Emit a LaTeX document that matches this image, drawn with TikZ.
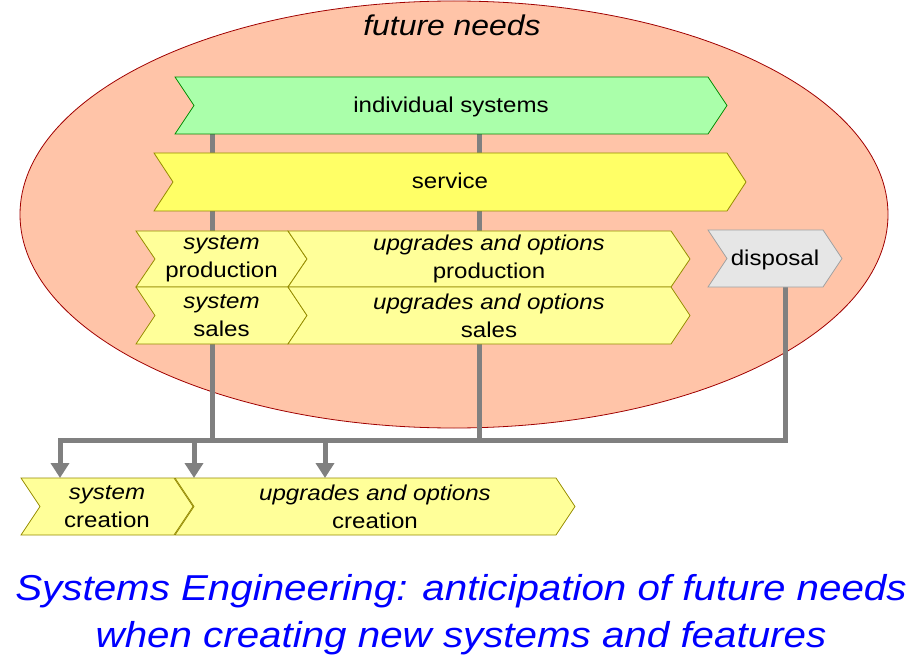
\documentclass[tikz,border=0pt]{standalone}
\usepackage{fontspec}
\setmainfont[FakeStretch=1.12]{Liberation Sans}
\usetikzlibrary{arrows.meta,shapes.geometric,calc}
\pgfdeclarelayer{ellayer}
\pgfdeclarelayer{linelayer}
\pgfdeclarelayer{shapelayer}
\pgfsetlayers{ellayer,linelayer,shapelayer,main}
\definecolor{ellfill}{RGB}{255,196,168}
\definecolor{ellline}{RGB}{160,0,0}
\definecolor{greenfill}{RGB}{170,255,170}
\definecolor{greenline}{RGB}{0,140,0}
\definecolor{yelfill}{RGB}{255,255,102}
\definecolor{paleyel}{RGB}{255,255,153}
\definecolor{oliveline}{RGB}{150,140,0}
\definecolor{greyfill}{RGB}{230,230,230}
\definecolor{greyline}{RGB}{160,160,160}
\definecolor{conngray}{RGB}{128,128,128}
\definecolor{titleblue}{RGB}{0,0,255}
\newcommand\chevdraw[3]{%
  \begin{pgfonlayer}{shapelayer}
  \draw[draw=#3, fill=#2, line width=0.8pt, line join=miter]
    (#1.north west) -- ([xshift=-19pt]#1.north east) -- (#1.east)
    -- ([xshift=-19pt]#1.south east) -- (#1.south west)
    -- ([xshift=19pt]#1.west) -- cycle;
  \end{pgfonlayer}}
\begin{document}
\begin{tikzpicture}[x=1pt,y=-1pt,
  chev/.style={inner sep=0pt, outer sep=0pt, minimum height=57pt,
    font=\fontsize{21.5}{28}\selectfont, align=center},
  oneline/.style={text height=16pt, text depth=2pt},
  conn/.style={draw=conngray, line width=5pt},
  arr/.style={conn, -{Triangle[length=15pt,width=18pt]}}]
\useasboundingbox (0,0) rectangle (920,660);

% ellipse
\begin{pgfonlayer}{ellayer}
\node[ellipse, draw=ellline, fill=ellfill, line width=0.8pt, inner sep=0pt,
  minimum width=868pt, minimum height=427pt] (needs) at (454,214.5) {};
\end{pgfonlayer}
\node[anchor=base, font=\fontsize{28.5}{34}\selectfont\itshape] (future) at (452,35.5) {future needs};

% chevron nodes
\node[chev, oneline, minimum width=552pt] (indiv) at (451,105.5) {individual systems};
\node[chev, oneline, minimum width=592pt, minimum height=58pt] (service) at (450,182) {service};
\node[chev, minimum width=171pt, minimum height=56pt] (sysprod) at (221.5,259) {\textit{system}\\production};
\node[chev, minimum width=402pt, minimum height=56pt] (upprod) at (489,259) {\textit{upgrades and options}\\production};
\node[chev, minimum width=171pt] (syssales) at (221.5,315.5) {\textit{system}\\sales};
\node[chev, minimum width=402pt] (upsales) at (489,315.5) {\textit{upgrades and options}\\sales};
\node[chev, oneline, minimum width=134pt] (disposal) at (775,258.5) {disposal};
\node[chev, minimum width=172pt] (syscre) at (107,506.5) {\textit{system}\\creation};
\node[chev, minimum width=400pt] (upcre) at (375,506.5) {\textit{upgrades and options}\\creation};

\chevdraw{indiv}{greenfill}{greenline}
\chevdraw{service}{yelfill}{oliveline}
\chevdraw{sysprod}{paleyel}{oliveline}
\chevdraw{upprod}{paleyel}{oliveline}
\chevdraw{syssales}{paleyel}{oliveline}
\chevdraw{upsales}{paleyel}{oliveline}
\chevdraw{disposal}{greyfill}{greyline}
\chevdraw{syscre}{paleyel}{oliveline}
\chevdraw{upcre}{paleyel}{oliveline}

% connectors
\coordinate (j1) at (212,440);
\coordinate (j2) at (479,440);
\coordinate (d1) at (785,440);
\coordinate (b0) at (60,440);
\coordinate (b1) at (194,440);
\coordinate (b2) at (325,440);
\begin{pgfonlayer}{linelayer}
\draw[conn] (indiv.south -| j1) -- (j1);
\draw[conn] (indiv.south -| j2) -- (j2);
\draw[arr, line join=miter] (disposal.south -| d1) -- (d1) -- (b0) -- (syscre.north -| b0);
\draw[arr] (b1) -- (upcre.north -| b1);
\draw[arr] (b2) -- (upcre.north -| b2);
\end{pgfonlayer}

% title
\node[font=\fontsize{36}{47}\selectfont\itshape, text=titleblue, align=center] (title) at (461,614.5)
  {Systems Engineering: anticipation of future needs\\when creating new systems and features};
\end{tikzpicture}
\end{document}
